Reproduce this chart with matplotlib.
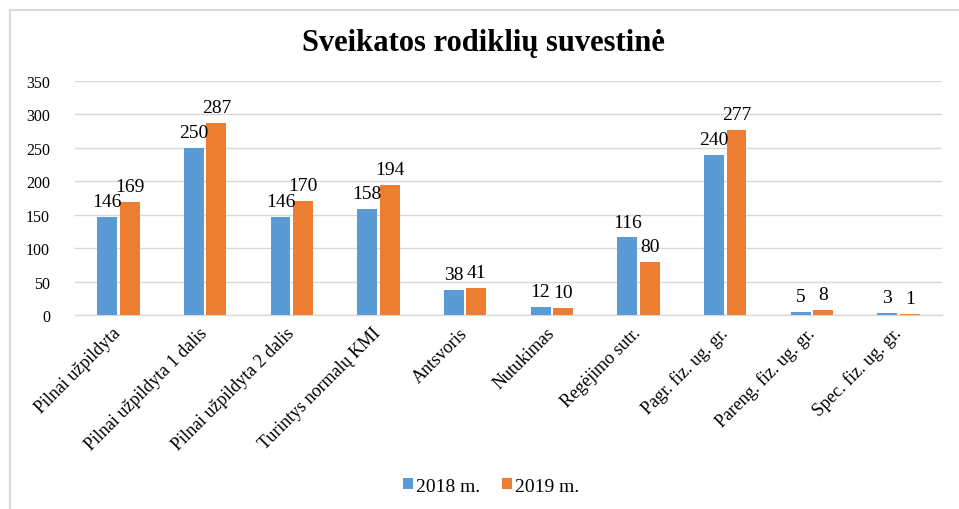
import matplotlib
matplotlib.use("Agg")
import matplotlib.pyplot as plt
import numpy as np
from matplotlib.lines import Line2D

categories = ["Pilnai užpildyta", "Pilnai užpildyta 1 dalis", "Pilnai užpildyta 2 dalis",
              "Turintys normalų KMI", "Antsvoris", "Nutukimas", "Regėjimo sutr.",
              "Pagr. fiz. ug. gr.", "Pareng. fiz. ug. gr.", "Spec. fiz. ug. gr."]
values_2018 = [146, 250, 146, 158, 38, 12, 116, 240, 5, 3]
values_2019 = [169, 287, 170, 194, 41, 10, 80, 277, 8, 1]
series_names = ["2018 m.", "2019 m."]
yticks = [0, 50, 100, 150, 200, 250, 300, 350]

plt.rcParams['font.family'] = ['Liberation Serif', 'DejaVu Serif']

W, H = 959, 510
fig = plt.figure(figsize=(W/100, H/100), dpi=100)
ax = fig.add_axes([75/W, 1-316/H, (942-75)/W, (316-82)/H])

x = np.arange(len(categories))
bw = 0.23
gap = 0.03
b1 = ax.bar(x - (bw+gap)/2, values_2018, bw, color="#5B9BD5", label=series_names[0], zorder=3)
b2 = ax.bar(x + (bw+gap)/2, values_2019, bw, color="#ED7D31", label=series_names[1], zorder=3)

for bars, vals in ((b1, values_2018), (b2, values_2019)):
    for r, v in zip(bars, vals):
        ax.annotate(str(v), (r.get_x()+r.get_width()/2, r.get_height()),
                    xytext=(0, 5), textcoords="offset points",
                    ha="center", va="bottom", fontsize=14, color="#000000")

ax.set_xlim(-0.5, len(categories)-0.5)
ax.set_ylim(0, 350)
ax.set_yticks(yticks)
ax.set_yticklabels([str(t) for t in yticks], fontsize=11.5)
ax.set_xticks(x)
ax.set_xticklabels(categories, rotation=45, ha="right", va="center",
                   rotation_mode="anchor", fontsize=13)
ax.tick_params(axis="both", length=0)
ax.tick_params(axis="x", pad=11)
ax.tick_params(axis="y", pad=18)
ax.grid(axis="y", color="#d9d9d9", linewidth=1, zorder=0)
for s in ("top", "right", "left"):
    ax.spines[s].set_visible(False)
ax.spines["bottom"].set_color("#d9d9d9")
ax.spines["bottom"].set_linewidth(1)

fig.text(483/W, 1-44/H, "Sveikatos rodiklių suvestinė", ha="center", va="center",
         fontsize=22, fontweight="bold")

fig.legend(handles=[b1, b2], loc="center", bbox_to_anchor=(491/W, 1-487/H),
           ncol=2, frameon=False, fontsize=14, handlelength=0.55, handleheight=0.55,
           handletextpad=0.15, columnspacing=1.1)

# outer frame
fig.add_artist(Line2D([9.5/W, 9.5/W], [0, 1-11/H], color="#d9d9d9", linewidth=1.5,
                      transform=fig.transFigure))
fig.add_artist(Line2D([9.5/W, 1], [1-11/H, 1-11/H], color="#d9d9d9", linewidth=1.5,
                      transform=fig.transFigure))

fig.savefig("out.png", dpi=100)
